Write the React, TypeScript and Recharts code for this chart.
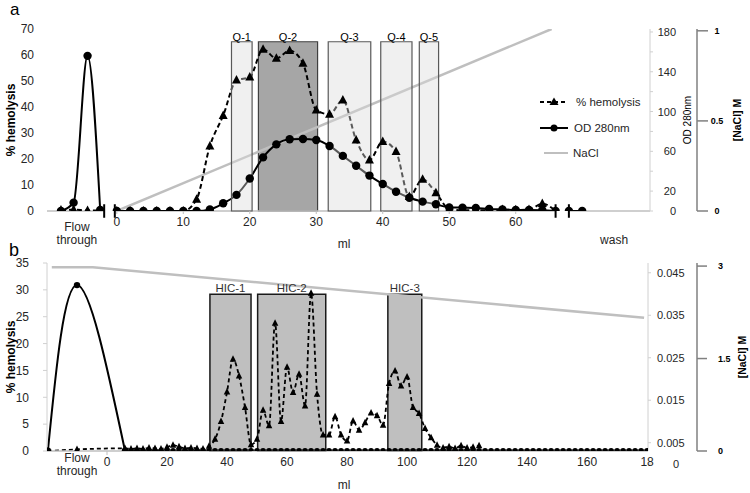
import React from 'react';
import { ComposedChart, Line, XAxis, YAxis, ReferenceArea, ReferenceLine, Legend } from 'recharts';

const FONT = '"Liberation Sans", Arial, Helvetica, sans-serif';
const INK = '#262626';

// ---------------- Panel a ----------------
const xA = [-8.4, -6.5, -4.4, -2.5, -1.2, 0, 2, 4, 6, 8, 10, 12, 14, 16, 18, 20, 22, 24, 26, 28, 30, 32, 34, 36, 38, 40, 42, 44, 46, 48, 50, 52, 54, 56, 58, 60, 62, 64, 66, 67, 68, 70];
const hemA = [0.3, 0.5, 0.2, 0.2, null, 0, 0, 0, 0, 0, 0, 4.5, 25, 36.7, 50.3, 51.5, 62.2, 58.7, 61.7, 56.8, 38.8, 37.2, 42.7, 27.3, 19.6, 26.7, 22.8, 5.5, 12.2, 7, 0.8, 0.3, 0.3, 0.3, 0.5, 0.4, 0.5, 2.8, 0, null, 0, null];
const odA = [0, 8.4, 156, 1, null, 0, 0, 0, 0, 0, 0, 0, 1.6, 7.8, 16.2, 32.7, 53.9, 67, 72.2, 72.4, 71.4, 65.4, 55.4, 45.5, 35.6, 27.2, 19.4, 13.3, 9.4, 6.8, 3.6, 3.4, 3.1, 2.1, 1.6, 1, 1, 0.8, 0, null, 0, 0];
const naclAX = [0, 65.4];
const naclAY = [0, 1.01];
const qNames = ['Q-1', 'Q-2', 'Q-3', 'Q-4', 'Q-5'];
const qStart = [17.25, 21.3, 31.8, 39.7, 45.5];
const qEnd = [20.35, 30.2, 38.2, 44.4, 48.4];
const qDark = [false, true, false, false, false];
const qTop = 65.1;
const xTicksA = [-6, 0, 10, 20, 30, 40, 50, 60, 74.8];
const xTickLabelsA = ['Flow through', '0', '10', '20', '30', '40', '50', '60', 'wash'];
const hemTicksA = [0, 10, 20, 30, 40, 50, 60, 70];
const odTicksA = [0, 20, 40, 60, 80, 100, 120, 140, 160, 180];
const odLabelTicksA = [0, 20, 60, 100, 140, 180];
const naclTicksA = [0, 0.5, 1];
const axisSegStartA = [-10.5, -0.3, 68];
const axisSegEndA = [-1.9, 66, 80.2];
const breaksA = [-1.9, -0.3, 66, 68];

// ---------------- Panel b ----------------
const xB = [-19.7, -10, 6, 8, 10, 12, 14, 16, 18, 20, 22, 24, 26, 28, 30, 32, 34, 36, 38, 40, 42, 44, 46, 48, 50, 52, 54, 56, 58, 60, 62, 64, 66, 68, 70, 72, 74, 76, 78, 80, 82, 84, 86, 88, 90, 92, 94, 96, 98, 100, 102, 104, 106, 108, 110, 112, 114, 116, 118, 120, 122, 124];
const hemB = [0, 0.3, 0.5, 0.4, 0.5, 0.4, 0.6, 0.5, 0.4, 0.7, 1.1, 0.8, 0.5, 0.6, 0.5, 0.4, 0.9, 2.2, 5.5, 11, 17.1, 14, 8.1, 1.2, 2.2, 7.6, 4.7, 23.8, 5.5, 15.6, 10.9, 14.3, 8.4, 29.4, 10.6, 3, 3, 6.4, 3, 1.9, 5.6, 3.9, 5.3, 7.1, 6.6, 4.8, 12.6, 14.9, 12.1, 13.8, 8.1, 7, 4.2, 2.5, 1.1, 0.6, 0.8, 0.5, 1.0, 0.6, 0.7, 1.0];
const xOdB = [6, 8, 10, 12, 14, 16, 18, 20, 22, 24, 26, 28, 30, 32, 34, 36, 38, 40, 42, 44, 46, 48, 50, 52, 54, 56, 58, 60, 62, 64, 66, 68, 70, 72, 74, 76, 78, 80, 82, 84, 86, 88, 90, 92, 94, 96, 98, 100, 102, 104, 106, 108, 110, 112, 114, 116, 118, 120, 122, 124, 126, 128, 130, 132, 134, 136, 138, 140, 142, 144, 146, 148, 150, 152, 154, 156, 158, 160, 162, 164, 166, 168, 170, 172, 174, 176, 178, 180];
const odB = [
  0.0031, 0.0031, 0.0031, 0.0031, 0.0031, 0.0031, 0.0031, 0.0031, 0.0031, 0.0031, 0.0031,
  0.0031, 0.0031, 0.0031, 0.0031, 0.0031, 0.0031, 0.0031, 0.0031, 0.0031, 0.0031, 0.0031,
  0.0031, 0.0031, 0.0031, 0.0031, 0.0031, 0.0031, 0.0031, 0.0031, 0.0031, 0.0031, 0.0031,
  0.0031, 0.0031, 0.0031, 0.0031, 0.0031, 0.0031, 0.0031, 0.0031, 0.0031, 0.0031, 0.0031,
  0.0031, 0.0031, 0.0031, 0.0031, 0.0031, 0.0031, 0.0031, 0.0031, 0.0031, 0.0031, 0.0031,
  0.0031, 0.0031, 0.0031, 0.0031, 0.0031, 0.0031, 0.0031, 0.0031, 0.0031, 0.0031, 0.0031,
  0.0031, 0.0031, 0.0031, 0.0031, 0.0031, 0.0031, 0.0031, 0.0031, 0.0031, 0.0031, 0.0031,
  0.0031, 0.0031, 0.0031, 0.0031, 0.0031, 0.0031, 0.0031, 0.0031, 0.0031, 0.0031, 0.0031,
];
const odFtX = [-19.7, -10, 6];
const odFtY = [0.0031, 0.0421, 0.0031];
const naclBX = [-18.4, -4.7, 179];
const naclBY = [2.98, 2.98, 2.16];
const hicNames = ['HIC-1', 'HIC-2', 'HIC-3'];
const hicStart = [34.3, 50.2, 93.6];
const hicEnd = [48, 72.9, 104.9];
const hicTop = 29.2;
const xTicksB = [-10, 0, 20, 40, 60, 80, 100, 120, 140, 160, 180];
const xTickLabelsB = ['Flow through', '0', '20', '40', '60', '80', '100', '120', '140', '160', '18'];
const hemTicksB = [0, 5, 10, 15, 20, 25, 30, 35];
const odTicksB = [0, 0.005, 0.015, 0.025, 0.035, 0.045];
const naclTicksB = [0, 1.5, 3];

// ---------------- tables ----------------
const rowsA = xA.map((x, i) => ({ x, hem: hemA[i], od: odA[i] }));
const naclRowsA = naclAX.map((x, i) => ({ x, nacl: naclAY[i] }));
const hemRowsB = xB.map((x, i) => ({ x, hem: hemB[i] }));
const odRowsB = xOdB.map((x, i) => ({ x, od: odB[i] }));
const odFtRowsB = odFtX.map((x, i) => ({ x, od: odFtY[i] }));
const naclRowsB = naclBX.map((x, i) => ({ x, nacl: naclBY[i] }));

// axis ids: OD axis is the inner right axis, NaCl the outer one
const OD = 'a_od';
const NACL = 'b_nacl';

// ---------------- helpers ----------------
const bad = (p: any) => p.cx == null || p.cy == null || Number.isNaN(p.cx) || Number.isNaN(p.cy) || p.value == null;

const makeTri = (w: number, h: number, fill: string, tag: string) => (p: any) => {
  const k = `${tag}-${p.index}`;
  if (bad(p)) return <g key={k} />;
  const { cx, cy } = p;
  return (
    <polygon
      key={k}
      points={`${cx},${cy - h * 0.6} ${cx - w / 2},${cy + h * 0.4} ${cx + w / 2},${cy + h * 0.4}`}
      fill={fill}
    />
  );
};
const makeCircle = (r: number, fill: string, tag: string) => (p: any) => {
  const k = `${tag}-${p.index}`;
  if (bad(p)) return <g key={k} />;
  return <circle key={k} cx={p.cx} cy={p.cy} r={r} fill={fill} />;
};

const vLabel = (text: string, cx: number, size: number, bold: boolean) => (props: any) => {
  const vb = props.viewBox || { y: 0, height: 0 };
  const cy = vb.y + vb.height / 2;
  return (
    <text
      x={cx}
      y={cy}
      transform={`rotate(-90 ${cx} ${cy})`}
      textAnchor="middle"
      dominantBaseline="central"
      fontSize={size}
      fontWeight={bold ? 'bold' : 'normal'}
      fontFamily={FONT}
      fill="#000"
    >
      {text}
    </text>
  );
};

const hLabel = (text: string, cx: number, cy: number) => () => (
  <text x={cx} y={cy} textAnchor="middle" dominantBaseline="central" fontSize={12} fontFamily={FONT} fill={INK}>
    {text}
  </text>
);

const XTickA = (props: any) => {
  const { x, y, payload } = props;
  const lab = xTickLabelsA[xTicksA.indexOf(payload.value)];
  const common = { textAnchor: 'middle' as const, dominantBaseline: 'central' as const, fontSize: 12, fontFamily: FONT, fill: INK };
  if (lab === 'Flow through') {
    const parts = lab.split(' ');
    return (
      <g>
        <text x={x} y={y + 16} {...common}>{parts[0]}</text>
        <text x={x} y={y + 29} {...common}>{parts[1]}</text>
      </g>
    );
  }
  if (lab === 'wash') return <text x={x} y={y + 29} {...common}>{lab}</text>;
  return (
    <g>
      <line x1={x} x2={x} y1={y} y2={y + 3} stroke="#bfbfbf" />
      <text x={x} y={y + 11} {...common}>{lab}</text>
    </g>
  );
};

const XTickB = (props: any) => {
  const { x, y, payload } = props;
  const lab = xTickLabelsB[xTicksB.indexOf(payload.value)];
  const common = { textAnchor: 'middle' as const, dominantBaseline: 'central' as const, fontSize: 12, fontFamily: FONT, fill: INK };
  if (lab === 'Flow through') {
    const parts = lab.split(' ');
    return (
      <g>
        <text x={x} y={y + 7} {...common}>{parts[0]}</text>
        <text x={x} y={y + 20} {...common}>{parts[1]}</text>
      </g>
    );
  }
  return (
    <g>
      {payload.value === 0 ? <line x1={x} x2={x} y1={y} y2={y + 4} stroke="#bfbfbf" /> : null}
      <text x={x} y={y + 11} {...common}>{lab}</text>
    </g>
  );
};

const OdTickA = (props: any) => {
  const { x, y, payload } = props;
  if (!odLabelTicksA.includes(payload.value)) return <g />;
  return (
    <text x={x + 23} y={y} textAnchor="end" dominantBaseline="central" fontSize={11} fontFamily={FONT} fill={INK}>
      {payload.value}
    </text>
  );
};

const OdTickB = (props: any) => {
  const { x, y, payload } = props;
  const isZero = payload.value === 0;
  return (
    <text x={isZero ? x + 22 : x + 6} y={y} textAnchor="start" dominantBaseline="central" fontSize={11} fontFamily={FONT} fill={INK}>
      {payload.value}
    </text>
  );
};

const NaclTick = (dx: number, anchor: 'start' | 'middle') => (props: any) => {
  const { x, y, payload } = props;
  return (
    <text x={x + dx} y={y} textAnchor={anchor} dominantBaseline="central" fontSize={9} fontWeight="bold" fontFamily={FONT} fill="#000">
      {payload.value}
    </text>
  );
};

const legendLabels = ['% hemolysis', 'OD 280nm', 'NaCl'];
const LegendA = () => (
  <svg width={120} height={75} style={{ display: 'block' }}>
    <line x1={5} x2={33} y1={12} y2={12} stroke="#000" strokeWidth={2} strokeDasharray="4 3" />
    <polygon points="19,7.5 14.5,15 23.5,15" fill="#000" />
    <text x={41} y={12} dominantBaseline="central" fontSize={11.5} fontFamily={FONT} fill={INK}>{legendLabels[0]}</text>
    <line x1={5} x2={33} y1={38} y2={38} stroke="#000" strokeWidth={2} />
    <circle cx={19} cy={38} r={3.5} fill="#000" />
    <text x={39} y={38} dominantBaseline="central" fontSize={11.5} fontFamily={FONT} fill={INK}>{legendLabels[1]}</text>
    <line x1={9} x2={33} y1={63} y2={63} stroke="#bfbfbf" strokeWidth={2} />
    <text x={38} y={63} dominantBaseline="central" fontSize={11.5} fontFamily={FONT} fill={INK}>{legendLabels[2]}</text>
  </svg>
);

const ChartA = () => (
  <ComposedChart width={750} height={258} margin={{ top: 29, right: 0, bottom: 8, left: 0 }}>
    <XAxis
      type="number"
      dataKey="x"
      domain={[-10.5, 80.2]}
      allowDataOverflow
      ticks={xTicksA}
      interval={0}
      tick={<XTickA />}
      tickSize={0}
      tickMargin={0}
      axisLine={false}
      tickLine={false}
      height={39}
      label={hLabel('ml', 344, 244)}
    />
    <YAxis
      yAxisId="hem"
      type="number"
      domain={[0, 70]}
      allowDataOverflow
      ticks={hemTicksA}
      interval={0}
      width={47}
      axisLine={false}
      tickLine={false}
      tickSize={0}
      tickMargin={13}
      tick={{ fontSize: 12, fill: INK, fontFamily: FONT }}
      label={vLabel('% hemolysis', 11, 12, true)}
    />
    <YAxis
      yAxisId={NACL}
      orientation="right"
      type="number"
      domain={[0, 1.01]}
      allowDataOverflow
      ticks={naclTicksA}
      interval={0}
      width={53}
      axisLine={{ stroke: '#808080', strokeWidth: 1.5 }}
      tickLine={{ stroke: '#808080', strokeWidth: 1.5 }}
      tickSize={11}
      tickMargin={0}
      tick={NaclTick(9, 'middle')}
      label={vLabel('[NaCl] M', 737, 10.5, true)}
    />
    <YAxis
      yAxisId={OD}
      orientation="right"
      type="number"
      domain={[0, 183]}
      allowDataOverflow
      ticks={odTicksA}
      interval={0}
      width={47}
      axisLine={{ stroke: '#d0d0d0' }}
      tickLine={{ stroke: '#d0d0d0' }}
      tickSize={3}
      tickMargin={0}
      tick={<OdTickA />}
      label={vLabel('OD 280nm', 687, 10, false)}
    />
    <Legend layout="horizontal" verticalAlign="middle" align="center" wrapperStyle={{ left: 535, top: 90, width: 120, height: 75 }} content={() => <LegendA />} />

    {axisSegStartA.map((s, i) => (
      <ReferenceLine
        key={`ax-${i}`}
        yAxisId="hem"
        segment={[{ x: s, y: 0 }, { x: axisSegEndA[i], y: 0 }]}
        stroke="#bfbfbf"
        strokeWidth={1.5}
        ifOverflow="visible"
      />
    ))}
    {qNames.map((q, i) =>
      qDark[i] ? (
        <ReferenceArea
          key={`qd-${q}`}
          yAxisId="hem"
          x1={qStart[i]}
          x2={qEnd[i]}
          y1={0}
          y2={qTop}
          fill="#a6a6a6"
          fillOpacity={1}
          stroke="#404040"
          strokeWidth={1.2}
          ifOverflow="visible"
          label={{ value: q, position: 'top', offset: 1, fontSize: 11, fill: '#000', fontFamily: FONT }}
        />
      ) : null
    )}
    <Line
      yAxisId={NACL}
      data={naclRowsA}
      dataKey="nacl"
      type="linear"
      stroke="#bfbfbf"
      strokeWidth={2.5}
      dot={false}
      activeDot={false}
      isAnimationActive={false}
    />
    <Line
      yAxisId={OD}
      data={rowsA}
      dataKey="od"
      type="monotone"
      stroke="#000"
      strokeWidth={2}
      dot={makeCircle(4.2, '#000', 'oda')}
      activeDot={false}
      isAnimationActive={false}
    />
    <Line
      yAxisId="hem"
      data={rowsA}
      dataKey="hem"
      type="monotone"
      stroke="#000"
      strokeWidth={2}
      strokeDasharray="5 3"
      dot={makeTri(9, 8.5, '#000', 'hema')}
      activeDot={false}
      isAnimationActive={false}
    />
    {breaksA.map((b, i) => (
      <ReferenceLine
        key={`br-${i}`}
        yAxisId="hem"
        segment={[{ x: b, y: -2.6 }, { x: b, y: 2.6 }]}
        stroke="#000"
        strokeWidth={2}
        ifOverflow="visible"
      />
    ))}
    {qNames.map((q, i) =>
      !qDark[i] ? (
        <ReferenceArea
          key={`ql-${q}`}
          yAxisId="hem"
          x1={qStart[i]}
          x2={qEnd[i]}
          y1={0}
          y2={qTop}
          fill="#dadada"
          fillOpacity={0.41}
          stroke="#595959"
          strokeWidth={1.2}
          ifOverflow="visible"
          zIndex={450}
          label={{ value: q, position: 'top', offset: 1, fontSize: 11, fill: '#000', fontFamily: FONT }}
        />
      ) : null
    )}
  </ComposedChart>
);

const ChartB = () => (
  <ComposedChart width={750} height={248} margin={{ top: 18, right: 0, bottom: 0, left: 0 }}>
    <XAxis
      type="number"
      dataKey="x"
      domain={[-20, 180.3]}
      allowDataOverflow
      ticks={xTicksB}
      interval={0}
      tick={<XTickB />}
      tickSize={0}
      tickMargin={0}
      axisLine={{ stroke: '#bfbfbf', strokeWidth: 1.5 }}
      tickLine={false}
      height={42}
      label={hLabel('ml', 344, 485 - 245)}
    />
    <YAxis
      yAxisId="hem"
      type="number"
      domain={[0, 35]}
      allowDataOverflow
      ticks={hemTicksB}
      interval={0}
      width={47}
      axisLine={{ stroke: '#d0d0d0' }}
      tickLine={{ stroke: '#d0d0d0' }}
      tickSize={4}
      tickMargin={14}
      tick={{ fontSize: 12, fill: INK, fontFamily: FONT }}
      label={vLabel('% hemolysis', 11, 12, true)}
    />
    <YAxis
      yAxisId={NACL}
      orientation="right"
      type="number"
      domain={[0, 3.05]}
      allowDataOverflow
      ticks={naclTicksB}
      interval={0}
      width={53}
      axisLine={{ stroke: '#808080', strokeWidth: 1.5 }}
      tickLine={{ stroke: '#808080', strokeWidth: 1.5 }}
      tickSize={10}
      tickMargin={0}
      tick={NaclTick(11, 'start')}
      label={vLabel('[NaCl] M', 742, 10.5, true)}
    />
    <YAxis
      yAxisId={OD}
      orientation="right"
      type="number"
      domain={[0.00305, 0.0473]}
      allowDataOverflow
      ticks={odTicksB}
      interval={0}
      width={49}
      axisLine={{ stroke: '#d0d0d0' }}
      tickLine={{ stroke: '#d0d0d0' }}
      tickSize={3}
      tickMargin={0}
      tick={<OdTickB />}
    />
    {hicNames.map((h, i) => (
      <ReferenceArea
        key={`hic-${h}`}
        yAxisId="hem"
        x1={hicStart[i]}
        x2={hicEnd[i]}
        y1={0}
        y2={hicTop}
        fill="#bfbfbf"
        fillOpacity={1}
        stroke="#1a1a1a"
        strokeWidth={1.5}
        ifOverflow="visible"
        label={{ value: h, position: 'top', offset: 2, fontSize: 11.5, fill: '#333', fontFamily: FONT }}
      />
    ))}
    <Line
      yAxisId={NACL}
      data={naclRowsB}
      dataKey="nacl"
      type="linear"
      stroke="#bfbfbf"
      strokeWidth={2.5}
      dot={false}
      activeDot={false}
      isAnimationActive={false}
    />
    <Line
      yAxisId={OD}
      data={odFtRowsB}
      dataKey="od"
      type="natural"
      stroke="#000"
      strokeWidth={2}
      dot={makeCircle(3.2, '#000', 'odft')}
      activeDot={false}
      isAnimationActive={false}
    />
    <Line
      yAxisId={OD}
      data={odRowsB}
      dataKey="od"
      type="linear"
      stroke="#000"
      strokeWidth={2}
      dot={makeCircle(2.8, '#000', 'odb')}
      activeDot={false}
      isAnimationActive={false}
    />
    <Line
      yAxisId="hem"
      data={hemRowsB}
      dataKey="hem"
      type="monotone"
      stroke="#000"
      strokeWidth={1.8}
      strokeDasharray="4 3"
      dot={makeTri(6.5, 6.5, '#000', 'hemb')}
      activeDot={false}
      isAnimationActive={false}
    />
  </ComposedChart>
);

export default function App() {
  return (
    <div style={{ position: 'absolute', left: 0, top: 0, width: 750, height: 493, background: '#fff', fontFamily: FONT, overflow: 'hidden' }}>
      <div style={{ position: 'absolute', left: 0, top: 0 }}>
        <ChartA />
      </div>
      <div style={{ position: 'absolute', left: 0, top: 245 }}>
        <ChartB />
      </div>
      <svg width={750} height={493} style={{ position: 'absolute', left: 0, top: 0, pointerEvents: 'none' }}>
        <text x={10} y={15} fontSize={17} fontFamily={FONT} fill="#000">a</text>
        <text x={9} y={256} fontSize={18} fontFamily={FONT} fill="#000">b</text>
      </svg>
    </div>
  );
}
